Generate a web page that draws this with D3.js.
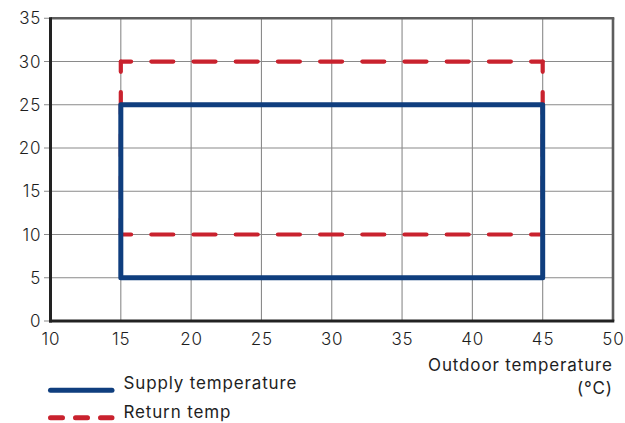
<!DOCTYPE html>
<html>
<head>
<meta charset="utf-8">
<script src="https://cdn.jsdelivr.net/npm/d3@7"></script>
<style>
  html, body { margin: 0; padding: 0; background: #fff; }
  svg { display: block; }
  text { font-family: Inter, "DejaVu Sans", sans-serif; fill: #1e1e1e; letter-spacing: 0.85px; }
</style>
</head>
<body>
<svg id="chart" width="625" height="423"></svg>
<script>
// ---- data ----
const xTicks = [10, 15, 20, 25, 30, 35, 40, 45, 50];
const yTicks = [0, 5, 10, 15, 20, 25, 30, 35];
const seriesNames = ["Supply temperature", "Return temp"];
const supplyX = [15, 15, 45, 45, 15];
const supplyY = [5, 25, 25, 5, 5];
const returnX = [15, 15, 45, 45, 15];
const returnY = [10, 30, 30, 10, 10];
const xTitleLines = ["Outdoor temperature", "(°C)"];

// ---- layout ----
const svg = d3.select("#chart");
const x = d3.scaleLinear().domain([10, 50]).range([50.5, 613]);
const y = d3.scaleLinear().domain([0, 35]).range([321, 18.3]);
const blue = "#0f3e7e", red = "#c9222e";
const fs = 17;

// gridlines
svg.append("g").selectAll("line").data(xTicks.filter(d => d > 10 && d < 50)).join("line")
  .attr("x1", d => x(d)).attr("x2", d => x(d))
  .attr("y1", y(0)).attr("y2", y(35))
  .attr("stroke", "#8a8a8a").attr("stroke-width", 1.1);
svg.append("g").selectAll("line").data(yTicks).join("line")
  .attr("x1", x(10) - 6.5).attr("x2", x(50))
  .attr("y1", d => y(d)).attr("y2", d => y(d))
  .attr("stroke", "#8a8a8a").attr("stroke-width", 1.1);

// frame: top & right gray
svg.append("line").attr("x1", x(10)).attr("x2", x(50) + 1.3).attr("y1", y(35)).attr("y2", y(35))
  .attr("stroke", "#5e5e5e").attr("stroke-width", 2.4);
svg.append("line").attr("x1", x(50)).attr("x2", x(50)).attr("y1", y(35)).attr("y2", y(0))
  .attr("stroke", "#5e5e5e").attr("stroke-width", 2.6);

// return temp (dashed), drawn edge by edge starting from top-left end
const line = d3.line().x(d => x(d[0])).y(d => y(d[1]));
const retPts = returnX.map((v, i) => [v, returnY[i]]);
const retEdges = d3.pairs(retPts).map(([a, b]) => {
  const swap = (b[0] < a[0]) || (b[0] === a[0] && b[1] > a[1]);
  return swap ? [b, a] : [a, b];
});
svg.append("g").selectAll("path").data(retEdges).join("path")
  .attr("d", line)
  .attr("fill", "none").attr("stroke", red).attr("stroke-width", 4.2)
  .attr("stroke-linecap", "round")
  .attr("stroke-dasharray", "22 20.2").attr("stroke-dashoffset", 11.7);

// supply temp (solid)
const supPts = supplyX.map((v, i) => [v, supplyY[i]]);
svg.append("path").datum(supPts)
  .attr("d", d3.line().x(d => x(d[0])).y(d => y(d[1])).curve(d3.curveLinearClosed))
  .attr("fill", "none").attr("stroke", blue).attr("stroke-width", 5)
  .attr("stroke-linejoin", "round");

// left & bottom axes
svg.append("line").attr("x1", x(10)).attr("x2", x(10)).attr("y1", y(35) - 1).attr("y2", y(0) + 1.5)
  .attr("stroke", "#222").attr("stroke-width", 3);
svg.append("line").attr("x1", x(10) - 1.5).attr("x2", x(50) + 1.3).attr("y1", y(0)).attr("y2", y(0))
  .attr("stroke", "#222").attr("stroke-width", 3);

// tick labels
svg.append("g").selectAll("text").data(yTicks).join("text")
  .attr("x", 41.3).attr("y", d => y(d)).attr("dy", "0.36em")
  .attr("text-anchor", "end").attr("font-size", fs).attr("font-weight", 300)
  .text(d => d);
svg.append("g").selectAll("text").data(xTicks).join("text")
  .attr("x", d => x(d) + 0.4).attr("y", 344.5)
  .attr("text-anchor", "middle").attr("font-size", fs).attr("font-weight", 300)
  .text(d => d);

// axis title
svg.append("g").selectAll("text").data(xTitleLines).join("text")
  .attr("x", 612.8).attr("y", (d, i) => 371 + i * 23)
  .attr("text-anchor", "end").attr("font-size", fs)
  .text(d => d);

// legend
const lg = svg.append("g");
const legX0 = 50.5, legX1 = 112;
lg.append("line").attr("x1", legX0).attr("x2", legX1).attr("y1", 390.3).attr("y2", 390.3)
  .attr("stroke", blue).attr("stroke-width", 5).attr("stroke-linecap", "round");
lg.append("line").attr("x1", legX0).attr("x2", legX1).attr("y1", 417.7).attr("y2", 417.7)
  .attr("stroke", red).attr("stroke-width", 5).attr("stroke-linecap", "round")
  .attr("stroke-dasharray", "12 13");
lg.selectAll("text").data(seriesNames).join("text")
  .attr("x", 123.5).attr("y", (d, i) => 389 + i * 29)
  .attr("font-size", fs)
  .text(d => d);
</script>
</body>
</html>
